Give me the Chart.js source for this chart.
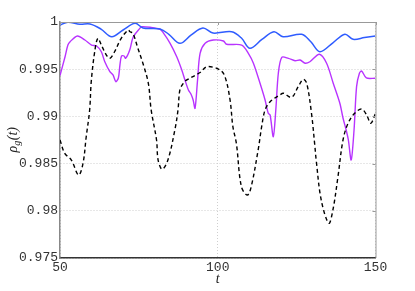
<!DOCTYPE html>
<html>
<head>
<meta charset="utf-8">
<script src="https://cdn.jsdelivr.net/npm/chart.js@4/dist/chart.umd.min.js"></script>
<style>
html,body{margin:0;padding:0;background:#fff;}
#wrap{width:415px;height:291px;position:relative;}
</style>
</head>
<body>
<div id="wrap"><canvas id="c"></canvas></div>
<script>
// ---- data ----
const tBlue = [50, 52.5, 56.3, 59.5, 63, 66.4, 70, 73.8, 76.3, 81.7, 84.5, 88.0, 91.5, 95.3, 98.5, 104.4, 107.5, 110.2, 114, 117.8, 120.7, 126.6, 129.5, 132.4, 136.5, 140.3, 142.9, 146.5, 150];
const blue  = [0.99968, 0.99997, 0.99976, 0.99979, 0.99925, 0.99844, 0.99915, 0.99986, 0.99936, 0.99926, 0.99870, 0.99774, 0.99860, 0.99936, 0.99883, 0.99897, 0.99830, 0.99721, 0.99815, 0.99897, 0.99844, 0.99870, 0.99790, 0.99685, 0.99780, 0.99870, 0.99817, 0.99835, 0.99852];

const tPurple = [50, 51.6, 52.5, 53.2, 55.5, 57.9, 60.0, 61.6, 63.1, 64.2, 65.8, 66.8, 67.7, 68.5, 69.0, 69.5, 70.3, 70.8, 72.1, 73.2, 75.3, 75.9, 78.5, 81.7, 82.7, 84.9, 87.0, 88.6, 89.6, 90.7, 91.5, 92.2, 92.8, 93.6, 94.4, 96.0, 98.6, 101.8, 102.8, 107.6, 109.7, 111.3, 113.4, 115.0, 116.0, 116.6, 117.6, 118.4, 119.2, 120.3, 122.4, 124.5, 126.1, 127.7, 129.2, 132.2, 134.5, 136.6, 138.7, 139.7, 140.7, 141.4, 142.3, 143.2, 144.0, 144.9, 145.6, 147.1, 150];
const purple  = [0.99433, 0.99632, 0.99756, 0.99791, 0.99852, 0.99809, 0.99756, 0.99746, 0.99685, 0.99579, 0.99474, 0.99439, 0.99368, 0.99407, 0.99545, 0.99640, 0.99640, 0.99615, 0.99703, 0.99841, 0.99933, 0.99950, 0.99944, 0.99923, 0.99887, 0.99774, 0.99632, 0.99492, 0.99386, 0.99280, 0.99237, 0.99174, 0.99086, 0.99386, 0.99668, 0.99774, 0.99809, 0.99799, 0.99764, 0.99756, 0.99668, 0.99563, 0.99351, 0.99174, 0.99033, 0.99015, 0.98785, 0.99068, 0.99457, 0.99626, 0.99615, 0.99590, 0.99597, 0.99563, 0.99579, 0.99658, 0.99563, 0.99351, 0.99139, 0.98983, 0.98856, 0.98750, 0.98538, 0.98856, 0.99315, 0.99457, 0.99481, 0.99407, 0.99404];

const tBlack = [50, 51.5, 53.6, 55.9, 57.3, 58.3, 59.4, 59.9, 61.0, 62.0, 63.1, 64.7, 65.8, 67.3, 69.4, 71.6, 72.2, 73.1, 74.7, 76.3, 78.0, 78.9, 80.6, 81.1, 82.4, 84.2, 86.4, 87.4, 88.0, 89.1, 90.2, 94.4, 96.6, 100.7, 102.3, 103.9, 104.8, 105.9, 107.5, 109.4, 110.6, 112.8, 114.0, 115.0, 116.6, 119.7, 120.8, 123.4, 125.5, 127.1, 128.2, 129.7, 130.8, 131.2, 132.8, 135.2, 136.5, 138.1, 139.7, 141.3, 143.4, 145.6, 147.2, 148.5, 150];
const black  = [0.98750, 0.98609, 0.98538, 0.98379, 0.98503, 0.98782, 0.99068, 0.99368, 0.99685, 0.99827, 0.99756, 0.99650, 0.99615, 0.99685, 0.99827, 0.99915, 0.99897, 0.99880, 0.99721, 0.99560, 0.99351, 0.99068, 0.98750, 0.98538, 0.98440, 0.98538, 0.98856, 0.99068, 0.99280, 0.99351, 0.99386, 0.99465, 0.99527, 0.99492, 0.99421, 0.99174, 0.98891, 0.98715, 0.98255, 0.98167, 0.98255, 0.98644, 0.98909, 0.99068, 0.99156, 0.99227, 0.99245, 0.99202, 0.99315, 0.99393, 0.99351, 0.99036, 0.98679, 0.98538, 0.98114, 0.97868, 0.98009, 0.98361, 0.98750, 0.98927, 0.99033, 0.99078, 0.99015, 0.98927, 0.99033];

const xTicks = [50, 100, 150];
const yTicks = [0.975, 0.98, 0.985, 0.99, 0.995, 1];

const pts = (ts, vs) => ts.map((t, i) => ({x: t, y: vs[i]}));

const MONO = '"Liberation Mono", "DejaVu Sans Mono", monospace';

const framePlugin = {
  id: 'frame',
  afterDraw(chart) {
    const {ctx, chartArea: a} = chart;
    ctx.save();
    ctx.strokeStyle = '#999';
    ctx.lineWidth = 1;
    ctx.beginPath();
    ctx.moveTo(a.left, a.top + 0.5);
    ctx.lineTo(a.right + 0.5, a.top + 0.5);
    ctx.lineTo(a.right + 0.5, a.bottom);
    ctx.stroke();
    // small inward tick marks on top and right edges
    const xs = chart.scales.x, ys = chart.scales.y;
    ctx.beginPath();
    xTicks.forEach(v => { const px = Math.round(xs.getPixelForValue(v)) + 0.5; ctx.moveTo(px, a.top); ctx.lineTo(px, a.top + 3); });
    yTicks.forEach(v => { const py = Math.round(ys.getPixelForValue(v)) + 0.5; ctx.moveTo(a.right, py); ctx.lineTo(a.right - 3, py); });
    ctx.stroke();
    // y-axis title rho_g(t)
    ctx.fillStyle = '#222';
    ctx.textBaseline = 'middle';
    ctx.translate(13, (a.top + a.bottom) / 2);
    ctx.rotate(-Math.PI / 2);
    const big = 'italic 14px "Liberation Serif", serif';
    const small = 'italic 10px "Liberation Serif", serif';
    ctx.font = big; const w1 = ctx.measureText('ρ').width;
    ctx.font = small; const w2 = ctx.measureText('g').width;
    ctx.font = big; const w3 = ctx.measureText('(t)').width;
    let x0 = -(w1 + w2 + w3) / 2;
    ctx.textAlign = 'left';
    ctx.font = big; ctx.fillText('ρ', x0, 0);
    ctx.font = small; ctx.fillText('g', x0 + w1, 4);
    ctx.font = big; ctx.fillText('(t)', x0 + w1 + w2 + 0.5, 0);
    ctx.restore();
  }
};

new Chart(document.getElementById('c'), {
  type: 'line',
  data: {
    datasets: [
      {data: pts(tBlack, black), borderColor: '#000', borderWidth: 1.4, borderDash: [4, 3], pointRadius: 0, tension: 0.35, fill: false},
      {data: pts(tBlue, blue), borderColor: '#2f5cff', borderWidth: 1.5, pointRadius: 0, tension: 0.35, fill: false},
      {data: pts(tPurple, purple), borderColor: '#b833ff', borderWidth: 1.4, pointRadius: 0, tension: 0.3, fill: false}
    ]
  },
  options: {
    responsive: true,
    maintainAspectRatio: false,
    animation: false,
    layout: {padding: {left: 0, top: 22, right: 39.5, bottom: 0}},
    plugins: {legend: {display: false}, tooltip: {enabled: false}},
    scales: {
      x: {
        type: 'linear', min: 50, max: 150,
        afterBuildTicks: s => { s.ticks = xTicks.map(v => ({value: v})); },
        afterFit: s => { s.height = 33; },
        ticks: {font: {family: MONO, size: 13}, color: '#333', padding: 2, maxRotation: 0},
        grid: {color: '#cfcfcf', drawTicks: false, lineWidth: 1},
        border: {color: '#333', width: 1.5, dash: [1, 2]},
        title: {display: true, text: 't', font: {family: '"Liberation Serif", serif', size: 14, style: 'italic'}, color: '#222', padding: {top: 0, bottom: 3}}
      },
      y: {
        type: 'linear', min: 0.975, max: 1,
        afterBuildTicks: s => { s.ticks = yTicks.map(v => ({value: v})); },
        afterFit: s => { s.width = 60; },
        ticks: {font: {family: MONO, size: 13}, color: '#333', padding: 2,
          callback: v => parseFloat(v.toFixed(3)).toString()},
        grid: {color: '#cfcfcf', drawTicks: false, lineWidth: 1},
        border: {color: '#888', width: 1.5, dash: [1, 2]}
      }
    }
  },
  plugins: [framePlugin]
});
</script>
</body>
</html>
